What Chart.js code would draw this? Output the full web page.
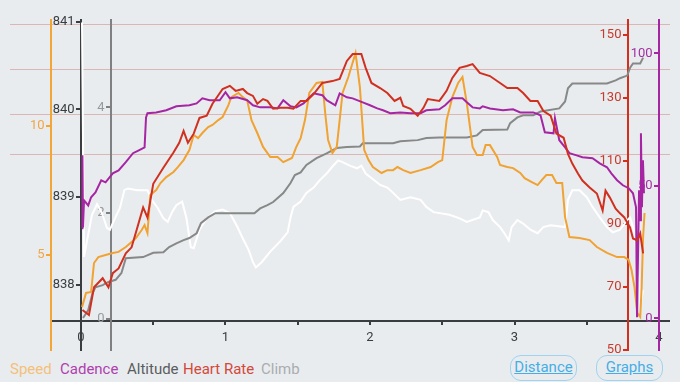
<!DOCTYPE html>
<html lang="en">
<head>
<meta charset="UTF-8">
<title>Ride graphs</title>
<style>
    body {
        margin: 0;
        background-color: #e9ecef;
        font-family: Roboto, sans-serif;
    }
    #wrap {
        position: relative;
        width: 680px;
        height: 382px;
    }
    canvas {
        position: absolute;
        left: 0;
        top: 0;
    }
    .legend {
        position: absolute;
        left: 0;
        top: 353px;
        width: 680px;
        height: 29px;
        background-color: #e9ecef;
    }
    .legend span {
        position: absolute;
        top: 7px;
        font-size: 15px;
        line-height: 18px;
    }
    .btn {
        position: absolute;
        top: 2px;
        height: 26px;
        width: 67px;
        box-sizing: border-box;
        border: 1.5px solid #9fd3f0;
        border-radius: 11px;
        color: #45aee6;
        text-decoration: underline;
        text-align: center;
        font-size: 15px;
        line-height: 23px;
    }
</style>
<script src="https://cdn.jsdelivr.net/npm/chart.js"></script>
</head>
<body>

<div id="wrap">
    <canvas id="graph" width="680" height="382"></canvas>
    <div class="legend">
        <span style="left:10px; color:#f4c07a;">Speed</span>
        <span style="left:60px; color:#b040ae;">Cadence</span>
        <span style="left:127px; color:#5a5d60;">Altitude</span>
        <span style="left:183px; color:#d4483a;">Heart Rate</span>
        <span style="left:261px; color:#aaadb0;">Climb</span>
        <div class="btn" style="left:510px;">Distance</div>
        <div class="btn" style="left:596px;">Graphs</div>
    </div>
</div>

<script>
// distance in km for each series
const speedKm = [0.007,0.035,0.07,0.09,0.12,0.17,0.22,0.26,0.31,0.35,0.38,0.42,0.44,0.46,0.48,0.52,0.55,0.59,0.64,0.67,0.71,0.75,0.78,0.81,0.84,0.88,0.91,0.95,0.98,1.02,1.04,1.09,1.12,1.15,1.18,1.22,1.26,1.31,1.36,1.40,1.46,1.49,1.52,1.55,1.58,1.63,1.67,1.69,1.71,1.74,1.77,1.79,1.81,1.85,1.90,1.93,1.96,1.99,2.02,2.08,2.12,2.16,2.19,2.23,2.28,2.35,2.42,2.47,2.50,2.53,2.57,2.61,2.64,2.67,2.71,2.74,2.78,2.80,2.83,2.88,2.90,2.95,2.99,3.04,3.07,3.12,3.16,3.19,3.22,3.26,3.29,3.33,3.35,3.38,3.45,3.52,3.57,3.64,3.71,3.76,3.79,3.81,3.83,3.85,3.87,3.88,3.89,3.90];
const speedKmh = [2.98,3.53,3.57,4.69,4.92,5.0,5.08,5.12,5.31,5.50,5.66,5.97,6.16,5.85,7.33,7.52,7.79,8.02,8.22,8.41,8.68,9.07,9.65,9.53,9.73,9.96,10.04,10.23,10.35,10.81,11.12,11.28,11.12,11.0,10.23,9.73,9.19,8.80,8.80,8.60,8.76,9.19,9.53,10.23,11.28,11.67,11.71,10.50,9.46,8.95,9.19,10.23,11.28,11.90,12.83,11.51,9.07,8.68,8.41,8.18,8.29,8.29,8.41,8.29,8.18,8.29,8.41,8.60,8.68,10.23,11.12,11.67,11.90,10.89,9.19,8.88,8.88,9.26,9.26,8.80,8.49,8.41,8.37,8.18,7.98,7.83,7.71,7.91,8.10,8.10,7.79,7.79,6.47,5.70,5.66,5.58,5.31,5.08,4.92,4.92,4.81,4.42,3.76,2.75,2.60,3.76,5.70,6.63];

const cadKm = [0.007,0.010,0.014,0.021,0.05,0.07,0.10,0.14,0.17,0.22,0.26,0.31,0.36,0.40,0.44,0.45,0.46,0.52,0.59,0.66,0.75,0.80,0.84,0.89,0.96,1.00,1.03,1.08,1.15,1.19,1.24,1.31,1.36,1.40,1.45,1.49,1.54,1.61,1.67,1.70,1.76,1.79,1.84,1.88,1.95,2.00,2.05,2.09,2.14,2.21,2.28,2.35,2.39,2.48,2.52,2.57,2.64,2.67,2.71,2.76,2.78,2.83,2.92,2.99,3.04,3.13,3.18,3.21,3.27,3.28,3.31,3.35,3.38,3.43,3.47,3.54,3.59,3.64,3.67,3.71,3.75,3.79,3.82,3.841,3.848,3.862,3.869,3.875,3.882,3.889,3.896];
const cadRpm = [34.0,61.5,34.3,44.5,42.6,45.7,47.5,52.1,51.3,54.7,55.8,58.9,62.3,63.4,64.5,75.8,77.4,77.7,78.5,80.0,80.4,81.1,83.0,82.3,82.3,85.3,83.0,83.4,82.3,80.4,79.6,79.6,79.2,82.3,80.0,79.6,81.1,84.9,84.2,82.3,80.4,84.9,83.4,83.0,81.5,80.4,79.2,78.5,77.4,77.7,77.4,77.4,78.5,78.9,80.4,83.0,83.0,81.5,79.6,79.2,80.0,79.2,78.5,78.9,77.7,77.7,76.6,70.2,69.8,75.5,67.2,64.5,62.3,61.5,60.8,60.4,58.5,57.0,54.7,52.1,50.2,49.1,47.2,41.9,0.4,48.3,37.0,69.8,41.9,59.6,47.2];

const altKm = [0.007,0.021,0.042,0.076,0.111,0.145,0.18,0.20,0.235,0.27,0.30,0.325,0.39,0.46,0.49,0.53,0.57,0.60,0.63,0.66,0.70,0.73,0.76,0.78,0.82,0.87,0.93,0.98,1.03,1.08,1.12,1.16,1.19,1.21,1.25,1.31,1.38,1.43,1.45,1.47,1.52,1.56,1.61,1.65,1.70,1.74,1.78,1.81,1.86,1.91,1.94,1.97,2.01,2.07,2.12,2.16,2.21,2.28,2.35,2.39,2.44,2.55,2.62,2.67,2.76,2.78,2.82,2.85,2.90,2.93,2.96,2.98,3.02,3.06,3.11,3.16,3.20,3.25,3.35,3.37,3.40,3.45,3.50,3.54,3.59,3.64,3.68,3.73,3.78,3.80,3.83,3.86,3.87,3.89];
const altM = [840.99,838.32,838.51,838.80,838.92,838.82,838.65,838.63,838.76,838.88,839.08,839.10,839.08,839.08,838.97,838.88,838.76,838.72,838.83,838.91,838.95,838.76,838.43,838.42,838.63,838.76,838.84,838.86,838.82,838.67,838.53,838.40,838.26,838.20,838.26,838.38,838.50,838.60,838.77,838.89,838.95,839.05,839.11,839.19,839.27,839.35,839.42,839.40,839.36,839.33,839.36,839.27,839.22,839.14,839.11,839.05,838.97,839.00,838.97,838.89,838.83,838.80,838.76,838.72,838.77,838.85,838.83,838.74,838.66,838.59,838.51,838.66,838.74,838.70,838.63,838.59,838.66,838.68,838.66,838.97,839.08,839.08,839.00,838.89,838.77,838.66,838.60,838.63,838.74,838.77,838.60,838.11,837.77,837.94];

const hrKm = [0.01,0.055,0.09,0.15,0.19,0.22,0.26,0.31,0.35,0.39,0.43,0.46,0.50,0.57,0.64,0.68,0.71,0.74,0.78,0.82,0.87,0.91,0.98,1.03,1.07,1.12,1.15,1.19,1.22,1.26,1.29,1.33,1.38,1.43,1.47,1.52,1.56,1.61,1.67,1.74,1.79,1.84,1.88,1.94,1.97,2.01,2.07,2.12,2.17,2.21,2.23,2.28,2.33,2.37,2.40,2.48,2.53,2.57,2.62,2.67,2.71,2.76,2.83,2.90,2.95,3.02,3.06,3.11,3.16,3.20,3.25,3.29,3.34,3.37,3.40,3.44,3.47,3.52,3.57,3.61,3.63,3.66,3.70,3.73,3.76,3.80,3.82,3.85,3.87,3.89];
const hrBpm = [62.7,61.1,69.9,72.8,69.9,74.4,75.9,80.7,82.6,88.9,95.3,92.1,102.8,107.9,112.7,115.8,119.6,115.8,118.7,123.7,124.4,128.2,132.9,133.9,132.3,132.9,131.6,130.7,128.2,129.7,129.1,126.6,126.9,126.9,126.6,129.1,129.1,131.3,134.8,135.4,136.1,141.8,144.0,144.0,139.6,134.8,133.2,131.6,129.1,130.1,127.5,126.6,124.4,126.9,129.7,129.1,132.3,136.4,139.6,140.2,140.8,138.0,137.0,134.8,133.2,133.2,131.6,129.1,129.1,125.9,124.4,118.7,117.4,112.3,109.2,106.0,103.8,101.6,99.7,94.3,100.6,98.4,94.9,93.4,92.1,88.9,85.4,84.8,87.0,80.7];

const climbKm = [0.014,0.05,0.08,0.10,0.15,0.19,0.24,0.28,0.31,0.43,0.50,0.57,0.61,0.66,0.71,0.75,0.80,0.83,0.88,0.93,1.20,1.24,1.29,1.33,1.40,1.45,1.48,1.52,1.56,1.63,1.70,1.77,1.84,1.93,1.95,2.16,2.21,2.33,2.39,2.48,2.67,2.74,2.78,2.95,2.97,3.02,3.06,3.13,3.18,3.31,3.35,3.37,3.40,3.64,3.70,3.73,3.78,3.80,3.82,3.87,3.89];
const climbM = [0.02,0.17,0.49,0.60,0.64,0.70,0.74,0.87,1.15,1.17,1.25,1.26,1.36,1.43,1.49,1.53,1.62,1.81,1.92,2.00,2.00,2.09,2.15,2.21,2.38,2.57,2.72,2.77,2.91,3.04,3.13,3.23,3.25,3.26,3.32,3.32,3.36,3.38,3.42,3.43,3.43,3.47,3.57,3.58,3.70,3.81,3.85,3.85,3.92,3.98,4.11,4.36,4.45,4.45,4.51,4.55,4.60,4.75,4.83,4.83,4.94];

// tick labels for each axis
const distanceTicks = [0, 0.5, 1, 1.5, 2, 2.5, 3, 3.5, 4];
const speedTicks = [5, 10];
const altTicks = [838, 839, 840, 841];
const climbTicks = [0, 2, 4];
const hrTicks = [50, 70, 90, 110, 130, 150];
const cadTicks = [0, 50, 100];
// heart rate zone lines
const hrZones = [112.1, 125.1, 139.2, 153.4];

function pairs(xs, ys) {
    return xs.map((x, i) => ({x: x, y: ys[i]}));
}

function fixedTicks(list) {
    return scale => { scale.ticks = list.map(v => ({value: v})); };
}

// axes placed on the x scale; chart.js ignores tick padding there,
// so the label gets pushed off the line with two trailing spaces
function sideAxis(at, min, max, list, color, labelColor) {
    return {
        type: 'linear',
        position: {x: at},
        min: min,
        max: max,
        afterBuildTicks: fixedTicks(list),
        ticks: {
            color: labelColor,
            font: {size: 13},
            callback: v => v + '  '
        },
        grid: { drawOnChartArea: false, tickLength: 4, color: color, lineWidth: 2 },
        border: { color: color, width: 2 }
    };
}

// pinkish zone lines go across the whole width, under the axes
const zoneLines = {
    id: 'zoneLines',
    beforeDraw(chart) {
        const ctx = chart.ctx;
        const yHr = chart.scales.yHr;
        ctx.save();
        ctx.strokeStyle = '#dcb6b4';
        ctx.lineWidth = 1;
        hrZones.forEach(v => {
            const y = Math.round(yHr.getPixelForValue(v)) + 0.5;
            ctx.beginPath();
            ctx.moveTo(10, y);
            ctx.lineTo(670, y);
            ctx.stroke();
        });
        ctx.restore();
    }
};

Chart.defaults.font.family = 'Roboto, sans-serif';

new Chart(document.getElementById('graph'), {
    type: 'line',
    data: {
        datasets: [
            { label: 'Heart Rate', data: pairs(hrKm, hrBpm), yAxisID: 'yHr', borderColor: '#d0301f' },
            { label: 'Cadence', data: pairs(cadKm, cadRpm), yAxisID: 'yCad', borderColor: '#a625a3' },
            { label: 'Speed', data: pairs(speedKm, speedKmh), yAxisID: 'ySpeed', borderColor: '#f0a232' },
            { label: 'Climb', data: pairs(climbKm, climbM), yAxisID: 'yClimb', borderColor: '#878888' },
            { label: 'Altitude', data: pairs(altKm, altM), yAxisID: 'yAlt', borderColor: '#ffffff' }
        ]
    },
    options: {
        responsive: false,
        animation: false,
        layout: { padding: { left: 51, right: 11, top: 20, bottom: 32 } },
        elements: {
            point: { radius: 0 },
            line: { borderWidth: 2, tension: 0 }
        },
        plugins: {
            legend: { display: false },
            tooltip: { enabled: false }
        },
        scales: {
            x: {
                type: 'linear',
                position: {yClimb: -0.03},
                min: -0.2076,
                max: 4.0692,
                afterBuildTicks: fixedTicks(distanceTicks),
                ticks: {
                    color: '#3a3d40',
                    padding: 6,
                    autoSkip: false,
                    maxRotation: 0,
                    font: {size: 13},
                    callback: v => Number.isInteger(v) ? v : ''
                },
                grid: { drawOnChartArea: false, tickLength: 3, color: '#3a3d40', lineWidth: 2 },
                border: { color: '#3a3d40', width: 2 }
            },
            ySpeed: sideAxis(-0.2076, 1.318, 14.11, speedTicks, '#f3a634', '#f0a646'),
            yAlt: sideAxis(0, 837.26, 841.019, altTicks, '#3a3d40', '#3a3d40'),
            yClimb: sideAxis(0.2076, -0.586, 5.65, climbTicks, '#7f8081', '#96989a'),
            yHr: sideAxis(3.785, 50, 154.8, hrTicks, '#d32f1c', '#c93a2c'),
            yCad: sideAxis(4, -11.96, 112.57, cadTicks, '#a625a3', '#a32fa0')
        }
    },
    plugins: [zoneLines]
});
</script>

</body>
</html>
